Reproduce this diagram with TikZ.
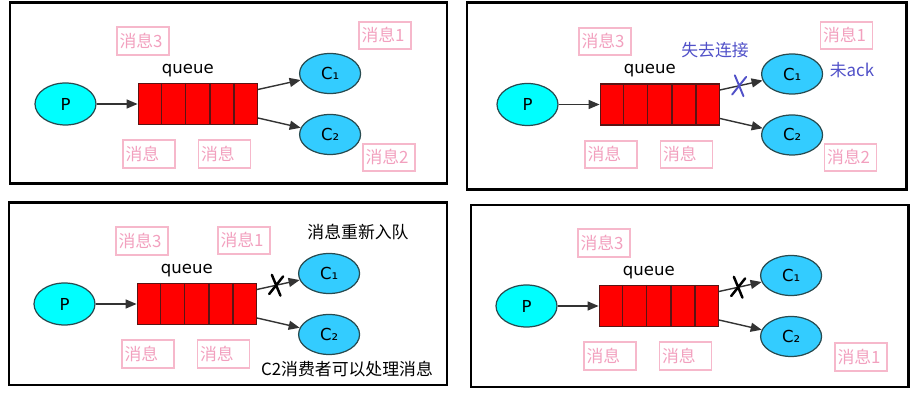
\documentclass[tikz,border=0pt]{standalone}
\usepackage{fontspec}
\setmainfont{DejaVu Sans}
\newfontfamily\cjk{Noto Sans CJK SC}
\usetikzlibrary{shapes.geometric, arrows.meta, positioning, calc}
\definecolor{prodfill}{RGB}{0,255,255}
\definecolor{consfill}{RGB}{51,204,255}
\definecolor{nodeline}{RGB}{40,75,80}
\definecolor{qborder}{RGB}{90,20,20}
\definecolor{pinkline}{RGB}{246,184,203}
\definecolor{pinktext}{RGB}{242,160,190}
\definecolor{lostblue}{RGB}{80,80,200}
\tikzset{
  panelframe/.style = {draw=black, line width=1.7pt},
  producer/.style = {
    ellipse, draw=nodeline, fill=prodfill, line width=0.7pt,
    minimum width=1.22cm, minimum height=0.84cm, inner sep=0pt,
    font=\fontsize{9.4}{11}\selectfont
  },
  consumer/.style = {
    ellipse, draw=nodeline, fill=consfill, line width=0.7pt,
    minimum width=1.22cm, minimum height=0.8cm, inner sep=0pt,
    font=\fontsize{9.4}{11}\selectfont
  },
  queuebox/.style = {
    rectangle, draw=qborder, fill=red, line width=0.8pt,
    minimum width=2.38cm, minimum height=0.82cm, inner sep=0pt
  },
  queueline/.style = {draw=qborder, line width=0.8pt},
  qtitle/.style = {inner sep=0pt, font=\fontsize{9.4}{11}\selectfont},
  note/.style = {
    rectangle, draw=pinkline, line width=1.1pt, text=pinktext,
    text width=0.94cm, inner xsep=0.05cm, minimum height=0.54cm,
    align=left, font=\cjk\fontsize{9.6}{11}\selectfont
  },
  remark/.style = {inner sep=0pt, font=\cjk\fontsize{9.6}{11}\selectfont},
  flow/.style = {-{Triangle[length=0.22cm, width=0.18cm]}, draw=black!80, line width=0.8pt},
  xspot/.style = {rectangle, minimum width=0.2cm, minimum height=0.36cm, inner sep=0pt, rotate=-8},
  xstroke/.style = {line width=1.4pt, line cap=round}
}

% one P -> queue -> C1/C2 panel, #1 prefix, (#2,#3) centre of P
\newcommand{\mqpanel}[3]{%
  \node[producer] (#1p) at (#2,#3) {P};
  \node[queuebox, right=0.82cm of #1p] (#1q) {};
  \foreach \k in {1,...,4}
    \draw[queueline] ($(#1q.north west)!\k/5!(#1q.north east)$) -- ($(#1q.south west)!\k/5!(#1q.south east)$);
  \node[qtitle, above=0.12cm of #1q, xshift=-0.2cm] (#1qt) {queue};
  \node[consumer, right=0.82cm of #1q.east, yshift=0.61cm]  (#1c1) {C₁};
  \node[consumer, right=0.82cm of #1q.east, yshift=-0.61cm] (#1c2) {C₂};
  \draw[flow] (#1p) -- (#1q);
  \draw[flow] ([yshift=-0.28cm]#1q.east) -- (#1c2);
  \node[note] (#1m3) at ($(#1p)+(77.5,-63)$) {消息3};
  \node[note] (#1ma) at ($(#1p)+(83.5,50)$)  {消息};
  \node[note] (#1mb) at ($(#1p)+(159,50)$)   {消息};
}

\begin{document}
\begin{tikzpicture}[x=0.02cm, y=-0.02cm]
  \useasboundingbox (0,0) rectangle (913,404);
  % Frames
  \draw[panelframe] (10,3)   rectangle (447,184);
  \draw[panelframe] (467,3)  rectangle (906,190);
  \draw[panelframe] (9,203)  rectangle (447,385);
  \draw[panelframe] (471,205) rectangle (908,387);

  % Panel 1: both consumers connected
  \mqpanel{a-}{65.5}{104}
  \draw[flow] ([yshift=0.29cm]a-q.east) -- (a-c1);
  \node[note] (a-m1) at (385,35.5)  {消息1};
  \node[note] (a-m2) at (389,157.5) {消息2};

  % Panel 2: C1 loses its connection
  \mqpanel{b-}{527.5}{104.5}
  \draw[flow] ([yshift=0.29cm]b-q.east) -- node[xspot, pos=0.45] (b-x) {} (b-c1);
  \draw[xstroke, line width=1.1pt, lostblue] (b-x.north west) -- (b-x.south east) (b-x.north east) -- (b-x.south west);
  \node[note] (b-m1) at (846.5,35.5)  {消息1};
  \node[note] (b-m2) at (850.5,157.5) {消息2};
  \node[remark, text=lostblue] (b-lost)  at (715,50) {失去连接};
  \node[remark, text=lostblue] (b-noack) at (852,70) {未ack};

  % Panel 3: message requeued
  \mqpanel{c-}{64.5}{304}
  \draw[flow] ([yshift=0.29cm]c-q.east) -- node[xspot, pos=0.45] (c-x) {} (c-c1);
  \draw[xstroke] (c-x.north west) -- (c-x.south east) (c-x.north east) -- (c-x.south west);
  \node[note] (c-m1) at (244,240.5) {消息1};
  \node[remark] (c-requeue) at (358,232.5) {消息重新入队};
  \node[remark] (c-handle)  at (347,369)   {C2消费者可以处理消息};

  % Panel 4: C2 gets message 1
  \mqpanel{d-}{526.5}{306}
  \draw[flow] ([yshift=0.29cm]d-q.east) -- node[xspot, pos=0.45] (d-x) {} (d-c1);
  \draw[xstroke] (d-x.north west) -- (d-x.south east) (d-x.north east) -- (d-x.south west);
  \node[note] (d-m1) at (861,357) {消息1};
\end{tikzpicture}
\end{document}
